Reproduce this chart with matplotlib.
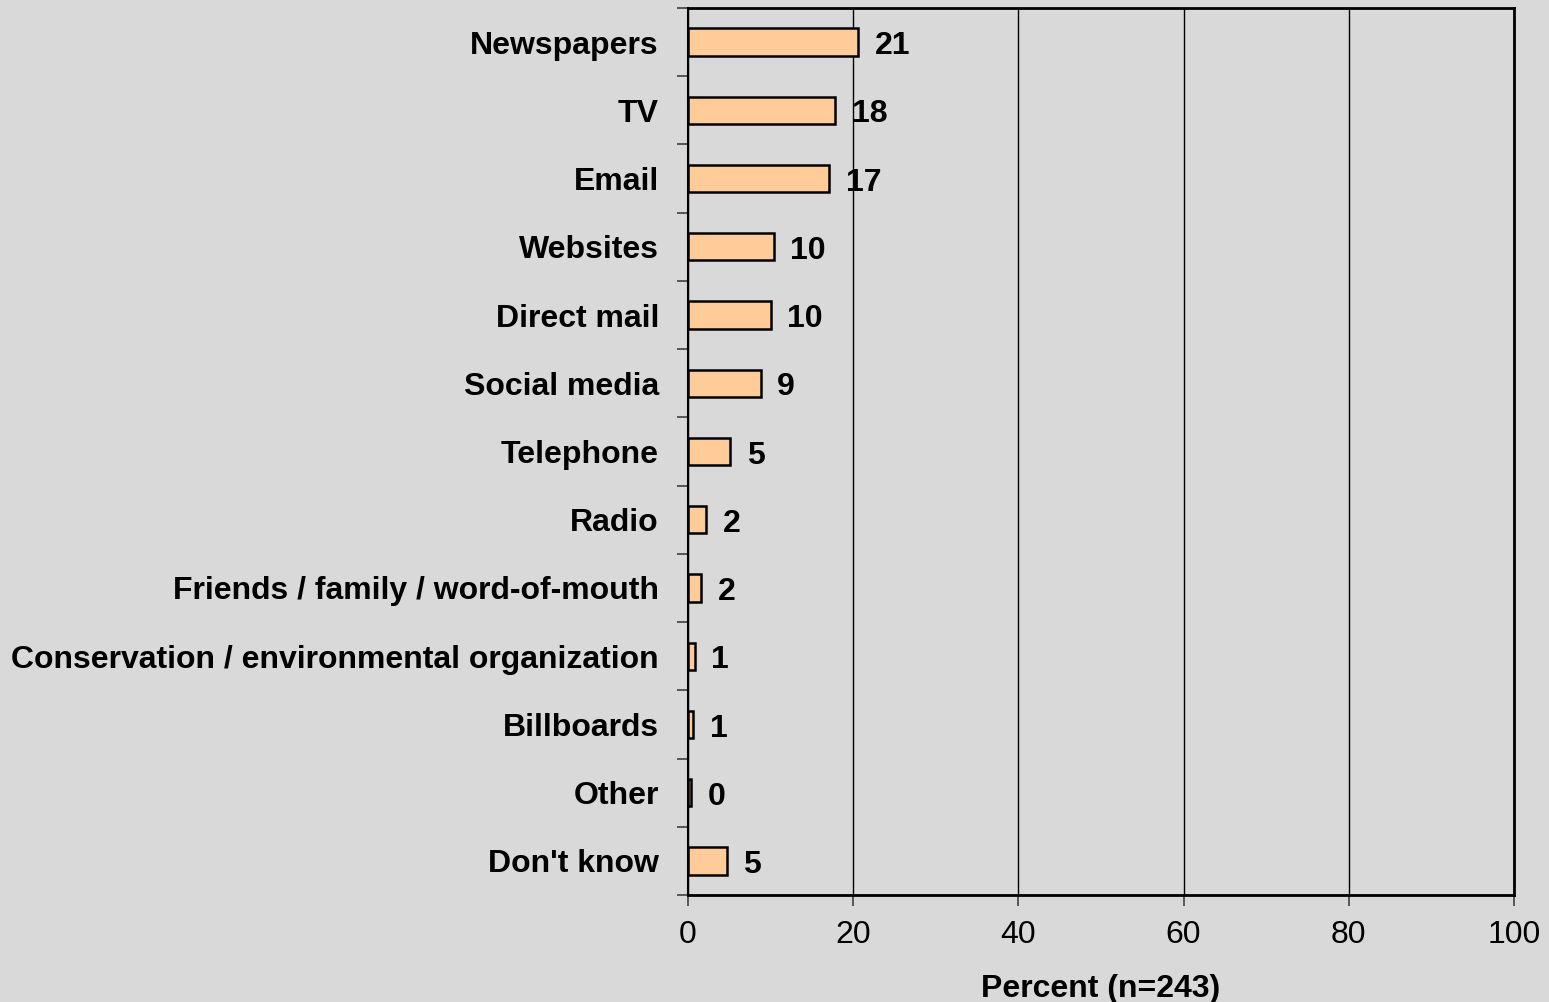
import numpy as np
import matplotlib.pyplot as plt

# survey: where respondents get their information
categories = ['Newspapers', 'TV', 'Email', 'Websites', 'Direct mail', 'Social media',
              'Telephone', 'Radio', 'Friends / family / word-of-mouth',
              'Conservation / environmental organization', 'Billboards', 'Other',
              "Don't know"]
percents = [20.6, 17.8, 17.1, 10.4, 10.0, 8.8, 5.1, 2.2, 1.6, 0.8, 0.6, 0.4, 4.7]
xticks = [0, 20, 40, 60, 80, 100]

plt.rcParams['font.family'] = ['Liberation Sans', 'DejaVu Sans']
fs = 23

bg = '#D9D9D9'
fig = plt.figure(figsize=(15.49, 10.02), dpi=100, facecolor=bg)
ax = fig.add_axes([0.4442, 0.1068, 0.5332, 0.8852], facecolor=bg)

y = np.arange(len(categories))
ax.barh(y, percents, height=0.4, color='#FFCC99', edgecolor='black', linewidth=1.8, zorder=3)

for yi, v in zip(y, percents):
    ax.text(v + 2.0, yi + 0.06, f'{v:.0f}', va='center', ha='left',
            fontsize=fs, fontweight='bold', zorder=4)

ax.set_xlim(0, 100)
ax.set_ylim(len(categories) - 0.5, -0.5)
ax.set_xticks(xticks)
ax.set_xticklabels([str(t) for t in xticks], fontsize=fs)
ax.set_yticks(y)
ax.set_yticklabels(categories, fontsize=fs, fontweight='bold')
ax.tick_params(axis='y', length=0, pad=21)
ax.set_yticks(np.arange(len(categories) + 1) - 0.5, minor=True)
ax.tick_params(axis='y', which='minor', length=8, color='#404040', width=1.2)
ax.tick_params(axis='x', length=8, color='#404040', width=1.2, pad=10)

ax.grid(axis='x', color='black', linewidth=1, zorder=0)
for side in ['top', 'right', 'bottom']:
    ax.spines[side].set_linewidth(2)
    ax.spines[side].set_color('black')
ax.spines['left'].set_linewidth(1.5)

ax.set_xlabel('Percent (n=243)', fontsize=fs, fontweight='bold', labelpad=17)

fig.savefig('out.png', dpi=100, facecolor=bg)
